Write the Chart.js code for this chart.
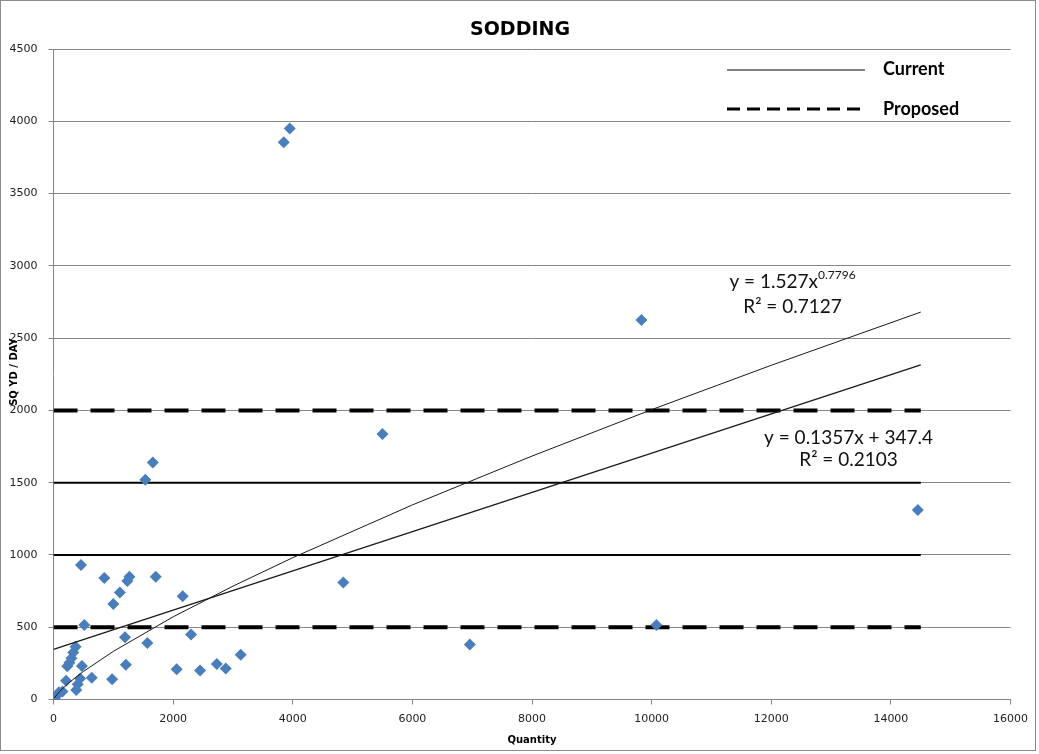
<!DOCTYPE html>
<html>
<head>
<meta charset="utf-8">
<script src="https://cdn.jsdelivr.net/npm/chart.js@4.4.1/dist/chart.umd.min.js"></script>
<style>
  html, body { margin: 0; padding: 0; background: #fff; overflow: hidden; }
  canvas { display: block; }
</style>
</head>
<body>
<canvas id="sodding" width="1039" height="754"></canvas>
<script>
// observed jobs
var quantity = [0, 20, 60, 90, 150, 210, 230, 265, 300, 330, 370, 380, 405, 445, 475, 460, 515, 640,
                850, 980, 1000, 1110, 1195, 1210, 1235, 1270, 1535, 1570, 1660, 1710, 2060, 2160, 2300,
                2450, 2730, 2880, 3130, 3850, 3950, 4845, 5500, 6960, 9830, 10080, 14450];
var sqydPerDay = [0, 10, 30, 50, 55, 130, 230, 255, 285, 325, 365, 65, 105, 145, 232, 930, 515, 150,
                  840, 140, 660, 740, 430, 240, 820, 850, 1520, 390, 1640, 850, 210, 715, 450,
                  200, 245, 215, 310, 3855, 3950, 810, 1836, 380, 2625, 515, 1311];

// trendlines as they appear on the chart
var powerX = [10, 100, 250, 500, 1000, 2000, 3000, 4000, 6000, 8000, 10000, 12000, 14500];
var powerY = [9, 55, 113, 194, 333, 572, 784, 981, 1346, 1684, 2005, 2312, 2680];
var linearX = [0, 14500];
var linearY = [347, 2315];

// production rates
var refX = [0, 14500];
var currentRates = [1000, 1500];
var proposedRates = [500, 2000];

var xTicks = [0, 2000, 4000, 6000, 8000, 10000, 12000, 14000, 16000];
var yTicks = [0, 500, 1000, 1500, 2000, 2500, 3000, 3500, 4000, 4500];

function pts(xs, ys) {
  return xs.map(function (x, i) { return {x: x, y: ys[i]}; });
}
function flat(y) {
  return refX.map(function (x) { return {x: x, y: y}; });
}

var datasets = [
  {type: "line", data: pts(powerX, powerY), borderColor: "#1a1a1a", borderWidth: 1, pointRadius: 0, showLine: true, fill: false},
  {type: "line", data: pts(linearX, linearY), borderColor: "#1a1a1a", borderWidth: 1.3, pointRadius: 0, showLine: true, fill: false},
  {data: pts(quantity, sqydPerDay), pointStyle: "rectRot", pointRadius: 6, backgroundColor: "#4a7ebb", borderWidth: 0}
];
currentRates.forEach(function (r) {
  datasets.push({type: "line", data: flat(r), borderColor: "#000", borderWidth: 2, pointRadius: 0, showLine: true, fill: false});
});
proposedRates.forEach(function (r) {
  datasets.push({type: "line", data: flat(r), borderColor: "#000", borderWidth: 4, borderDash: [24, 13], pointRadius: 0, showLine: true, fill: false});
});

var extras = {
  id: "extras",
  beforeDraw: function (chart) {
    var ctx = chart.ctx;
    ctx.save();
    ctx.fillStyle = "#fff";
    ctx.fillRect(0, 0, chart.width, chart.height);
    ctx.restore();
  },
  afterDraw: function (chart) {
    var ctx = chart.ctx, xs = chart.scales.x, ys = chart.scales.y;
    ctx.save();
    // frame
    ctx.strokeStyle = "#8c8c8c";
    ctx.lineWidth = 1;
    ctx.strokeRect(0.5, 0.5, 1035, 750);

    // title
    ctx.fillStyle = "#000";
    ctx.textAlign = "center";
    ctx.textBaseline = "middle";
    ctx.font = "bold 19px 'DejaVu Sans'";
    ctx.fillText("SODDING", 520, 30);

    // y axis title
    ctx.save();
    ctx.translate(14, 372);
    ctx.rotate(-Math.PI / 2);
    ctx.font = "bold 10px 'DejaVu Sans'";
    ctx.fillText("SQ YD / DAY", 0, 0);
    ctx.restore();

    // legend
    ctx.strokeStyle = "#000";
    ctx.lineWidth = 1;
    ctx.beginPath(); ctx.moveTo(727, 70); ctx.lineTo(865, 70); ctx.stroke();
    ctx.lineWidth = 3;
    ctx.setLineDash([13, 7]);
    ctx.beginPath(); ctx.moveTo(727, 109); ctx.lineTo(865, 109); ctx.stroke();
    ctx.setLineDash([]);
    ctx.textAlign = "left";
    ctx.font = "bold 18px Lato";
    ctx.fillText("Current", 883, 69);
    ctx.fillText("Proposed", 883, 109);

    // trendline equations
    ctx.font = "19px Lato";
    ctx.fillStyle = "#111";
    var px = xs.getPixelForValue(12356);
    var base = "y = 1.527x";
    var sup = "0.7796";
    var w1 = ctx.measureText(base).width;
    ctx.font = "12px Lato";
    var w2 = ctx.measureText(sup).width;
    var left = px - (w1 + w2) / 2;
    ctx.font = "19px Lato";
    ctx.fillText(base, left, ys.getPixelForValue(2889));
    ctx.font = "12px Lato";
    ctx.fillText(sup, left + w1, ys.getPixelForValue(2889) - 7);
    ctx.font = "19px Lato";
    ctx.textAlign = "center";
    ctx.fillText("R\u00b2 = 0.7127", px, ys.getPixelForValue(2716));
    var px2 = xs.getPixelForValue(13292);
    ctx.fillText("y = 0.1357x + 347.4", px2, ys.getPixelForValue(1808));
    ctx.fillText("R\u00b2 = 0.2103", px2, ys.getPixelForValue(1656));
    ctx.restore();
  }
};

function plain(v) { return String(v); }

new Chart("sodding", {
  type: "scatter",
  data: {datasets: datasets},
  options: {
    responsive: false,
    animation: false,
    events: [],
    layout: {padding: {top: 49, right: 28.5, left: 0, bottom: 0}},
    plugins: {legend: {display: false}, tooltip: {enabled: false}, title: {display: false}},
    scales: {
      x: {
        type: "linear", min: 0, max: 16000,
        afterFit: function (s) { s.height = 54.5; },
        afterBuildTicks: function (s) { s.ticks = xTicks.map(function (v) { return {value: v}; }); },
        grid: {drawOnChartArea: false, color: "#868686", tickLength: 5},
        border: {color: "#868686"},
        ticks: {color: "#222", font: {family: "DejaVu Sans", size: 11}, padding: 8, maxRotation: 0, callback: plain},
        title: {display: true, text: "Quantity", color: "#000", font: {family: "DejaVu Sans", size: 10, weight: "bold"}, padding: {top: 0, bottom: 8}}
      },
      y: {
        min: 0, max: 4500,
        afterFit: function (s) { s.width = 53.5; },
        afterBuildTicks: function (s) { s.ticks = yTicks.map(function (v) { return {value: v}; }); },
        grid: {color: "#868686", tickLength: 5},
        border: {color: "#868686"},
        ticks: {color: "#222", font: {family: "DejaVu Sans", size: 11}, padding: 11, callback: plain}
      }
    }
  },
  plugins: [extras]
});
</script>
</body>
</html>
